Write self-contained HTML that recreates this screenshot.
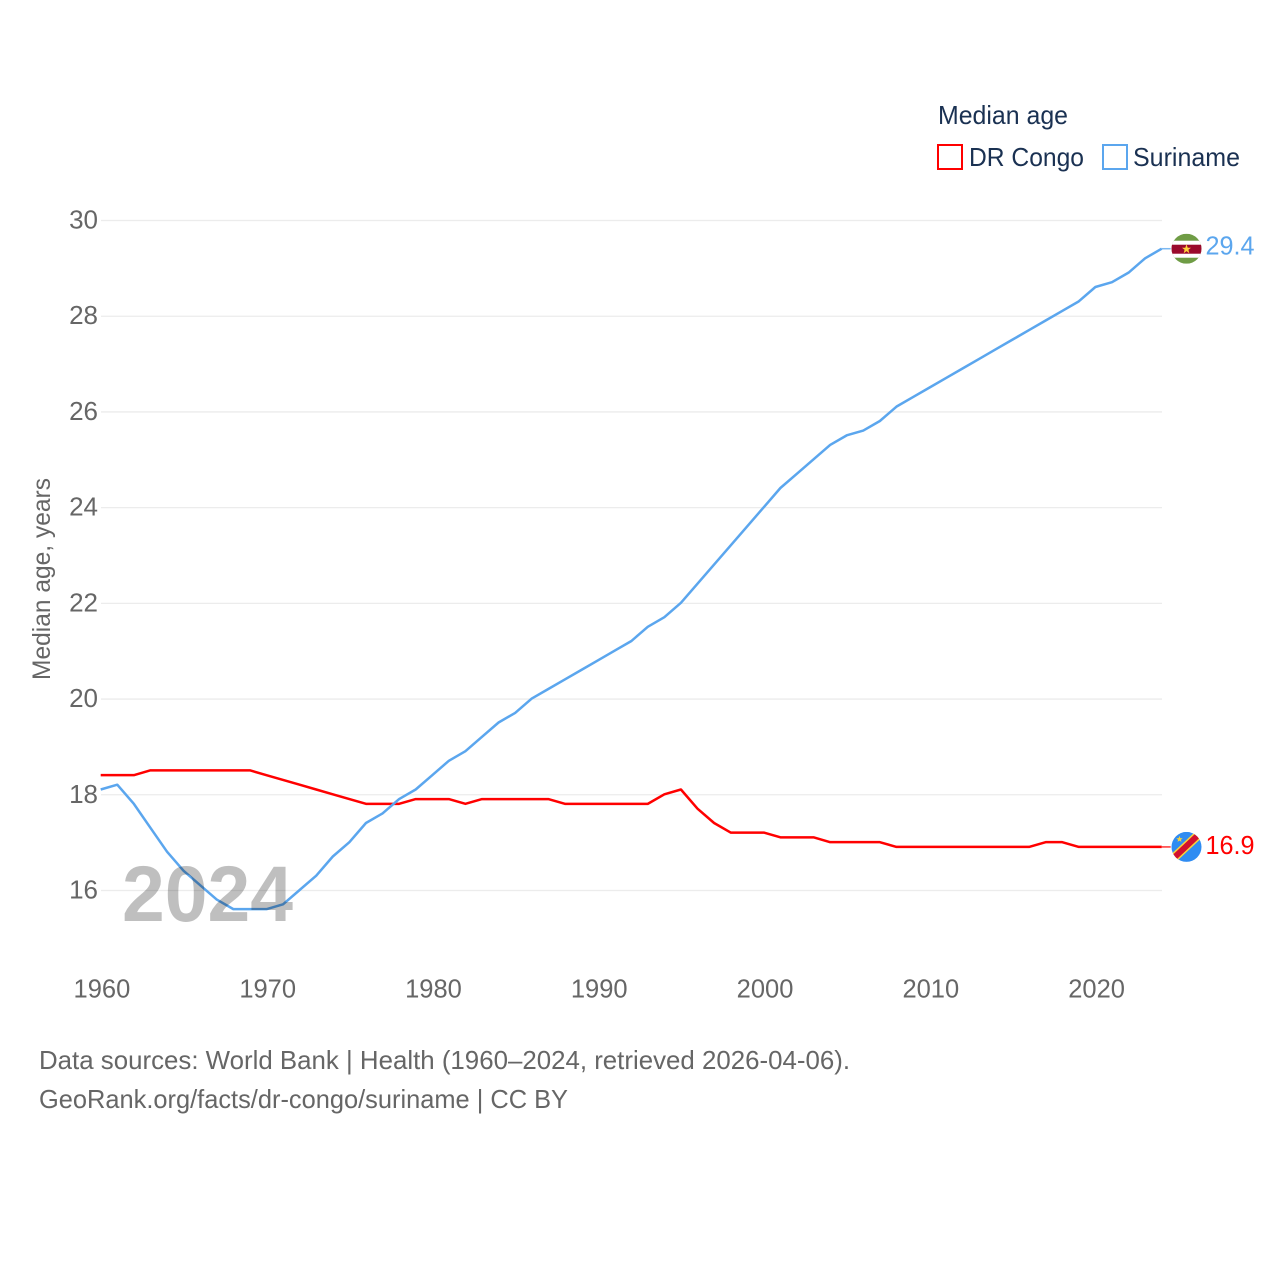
<!DOCTYPE html>
<html lang="en">
<head>
<meta charset="utf-8">
<title>Median age: DR Congo and Suriname</title>
<style>
html,body{margin:0;padding:0;background:#fff}
svg{display:block}
text{font-family:"Liberation Sans",sans-serif}
</style>
</head>
<body>
<svg id="chart" xmlns="http://www.w3.org/2000/svg" width="1280" height="1280" viewBox="0 0 1280 1280">
  <rect width="1280" height="1280" fill="#fff"/>
  <defs>
    <clipPath id="flag-clip-sr"><circle cx="15" cy="15" r="15"/></clipPath>
    <clipPath id="flag-clip-cd"><circle cx="15" cy="15" r="15"/></clipPath>
  </defs>
  <g id="grid"></g>
  <g id="y-ticks"></g>
  <g id="x-ticks"></g>
  <g id="series"></g>
  <text x="122" y="921" font-size="79" font-weight="700" fill="#000" fill-opacity="0.25" textLength="171" lengthAdjust="spacingAndGlyphs">2024</text>
  <text transform="translate(50 680) rotate(-90)" font-size="25" fill="#666" textLength="202" lengthAdjust="spacingAndGlyphs">Median age, years</text>

  <text x="938" y="124" font-size="26" fill="#1a3152" textLength="130" lengthAdjust="spacingAndGlyphs">Median age</text>
  <g>
    <rect x="938" y="145" width="24" height="24" fill="#fff" stroke="#ff0000" stroke-width="2"/>
    <text x="969" y="166" font-size="26" fill="#1a3152" textLength="115" lengthAdjust="spacingAndGlyphs">DR Congo</text>
  </g>
  <g>
    <rect x="1103" y="145" width="24" height="24" fill="#fff" stroke="#5ba6ee" stroke-width="2"/>
    <text x="1133" y="166" font-size="26" fill="#1a3152" textLength="107" lengthAdjust="spacingAndGlyphs">Suriname</text>
  </g>

  <g id="flag-sr">
    <g clip-path="url(#flag-clip-sr)">
      <rect width="30" height="30" fill="#6f9c45"/>
      <rect y="7" width="30" height="17" fill="#fff"/>
      <rect y="11" width="30" height="9" fill="#9a0a2c"/>
      <polygon points="15,10.5 16.2,14 19.5,14 16.9,16 17.8,19.5 15,17.4 12.2,19.5 13.1,16 10.5,14 13.8,14" fill="#ffd23c"/>
    </g>
  </g>
  <g id="flag-cd">
    <g clip-path="url(#flag-clip-cd)">
      <rect width="30" height="30" fill="#2f8cf2"/>
      <line x1="-2" y1="30" x2="30" y2="0" stroke="#f7d23c" stroke-width="9"/>
      <line x1="-2" y1="30" x2="30" y2="0" stroke="#d2102e" stroke-width="6"/>
      <polygon points="8,4 8.9,6.3 11.2,6.3 9.4,7.8 10,10 8,8.7 6,10 6.6,7.8 4.8,6.3 7.1,6.3" fill="#f7d23c"/>
    </g>
  </g>

  <text id="value-sr" x="1205.5" y="254" font-size="26" fill="#5ba6ee" textLength="49" lengthAdjust="spacingAndGlyphs"></text>
  <text id="value-cd" x="1205.5" y="853" font-size="26" fill="#ff0000" textLength="49" lengthAdjust="spacingAndGlyphs"></text>

  <text x="39" y="1069" font-size="26" fill="#666" textLength="811" lengthAdjust="spacingAndGlyphs">Data sources: World Bank | Health (1960–2024, retrieved 2026-04-06).</text>
  <text x="39" y="1108" font-size="26" fill="#666" textLength="529" lengthAdjust="spacingAndGlyphs">GeoRank.org/facts/dr-congo/suriname | CC BY</text>
</svg>
<script>
const years = [1960,1961,1962,1963,1964,1965,1966,1967,1968,1969,1970,1971,1972,1973,1974,1975,1976,1977,1978,1979,1980,1981,1982,1983,1984,1985,1986,1987,1988,1989,1990,1991,1992,1993,1994,1995,1996,1997,1998,1999,2000,2001,2002,2003,2004,2005,2006,2007,2008,2009,2010,2011,2012,2013,2014,2015,2016,2017,2018,2019,2020,2021,2022,2023,2024];
const drCongo = [18.4,18.4,18.4,18.5,18.5,18.5,18.5,18.5,18.5,18.5,18.4,18.3,18.2,18.1,18.0,17.9,17.8,17.8,17.8,17.9,17.9,17.9,17.8,17.9,17.9,17.9,17.9,17.9,17.8,17.8,17.8,17.8,17.8,17.8,18.0,18.1,17.7,17.4,17.2,17.2,17.2,17.1,17.1,17.1,17.0,17.0,17.0,17.0,16.9,16.9,16.9,16.9,16.9,16.9,16.9,16.9,16.9,17.0,17.0,16.9,16.9,16.9,16.9,16.9,16.9];
const suriname = [18.1,18.2,17.8,17.3,16.8,16.4,16.1,15.8,15.6,15.6,15.6,15.7,16.0,16.3,16.7,17.0,17.4,17.6,17.9,18.1,18.4,18.7,18.9,19.2,19.5,19.7,20.0,20.2,20.4,20.6,20.8,21.0,21.2,21.5,21.7,22.0,22.4,22.8,23.2,23.6,24.0,24.4,24.7,25.0,25.3,25.5,25.6,25.8,26.1,26.3,26.5,26.7,26.9,27.1,27.3,27.5,27.7,27.9,28.1,28.3,28.6,28.7,28.9,29.2,29.4];
const yTickValues = [16,18,20,22,24,26,28,30];
const xTickValues = [1960,1970,1980,1990,2000,2010,2020];

const NS = 'http://www.w3.org/2000/svg';
const xScale = function (yr) { return 100.7 + (yr - 1960) * (1161.7 - 100.7) / 64; };
const yScale = function (v) { return 220 + (30 - v) * (890 - 220) / 14; };

const grid = document.getElementById('grid');
const yTicks = document.getElementById('y-ticks');
const xTicks = document.getElementById('x-ticks');
const series = document.getElementById('series');

yTickValues.forEach(function (v) {
  const ln = document.createElementNS(NS, 'line');
  
  
  ln.setAttribute('x1', 101);
  ln.setAttribute('x2', 1162);
  ln.setAttribute('y1', yScale(v) + 0.5);
  ln.setAttribute('y2', yScale(v) + 0.5);
  ln.setAttribute('stroke', '#ececec');
  ln.setAttribute('stroke-width', 1.3);
  grid.appendChild(ln);

  const t = document.createElementNS(NS, 'text');
  
  
  t.setAttribute('x', 98);
  t.setAttribute('y', yScale(v) + 8.5);
  t.setAttribute('text-anchor', 'end');
  t.setAttribute('font-size', 26);
  t.setAttribute('fill', '#666');
  t.textContent = v;
  yTicks.appendChild(t);
});

xTickValues.forEach(function (yr) {
  const t = document.createElementNS(NS, 'text');
  
  
  t.setAttribute('x', xScale(yr) + 1.2);
  t.setAttribute('y', 997.5);
  t.setAttribute('text-anchor', 'middle');
  t.setAttribute('font-size', 25.5);
  t.setAttribute('fill', '#666');
  t.textContent = yr;
  xTicks.appendChild(t);
});

function drawSeries(values, color, name) {
  const p = document.createElementNS(NS, 'path');
  
  
  p.setAttribute('d', values.map(function (v, i) {
    return (i ? 'L' : 'M') + xScale(years[i]).toFixed(2) + ' ' + yScale(v).toFixed(2);
  }).join(' '));
  p.setAttribute('fill', 'none');
  p.setAttribute('stroke', color);
  p.setAttribute('stroke-width', 2.5);
  p.setAttribute('stroke-linejoin', 'round');
  series.appendChild(p);

  const last = values[values.length - 1];
  const c = document.createElementNS(NS, 'line');
  
  
  c.setAttribute('x1', xScale(years[years.length - 1]));
  c.setAttribute('x2', xScale(years[years.length - 1]) + 9);
  c.setAttribute('y1', yScale(last));
  c.setAttribute('y2', yScale(last));
  c.setAttribute('stroke', color);
  c.setAttribute('stroke-width', 1.5);
  c.setAttribute('stroke-opacity', 0.8);
  series.appendChild(c);
}
drawSeries(drCongo, '#ff0000', 'dr-congo');
drawSeries(suriname, '#5ba6ee', 'suriname');

const lastSr = suriname[suriname.length - 1];
const lastCd = drCongo[drCongo.length - 1];
document.getElementById('flag-sr').setAttribute('transform', 'translate(1171.5 ' + (yScale(lastSr) - 15) + ')');
document.getElementById('flag-cd').setAttribute('transform', 'translate(1171.5 ' + (yScale(lastCd) - 15) + ')');
const valueSr = document.getElementById('value-sr');
const valueCd = document.getElementById('value-cd');
valueSr.textContent = lastSr.toFixed(1);
valueCd.textContent = lastCd.toFixed(1);
valueSr.setAttribute('y', yScale(lastSr) + 6);
valueCd.setAttribute('y', yScale(lastCd) + 7);
</script>
</body>
</html>
